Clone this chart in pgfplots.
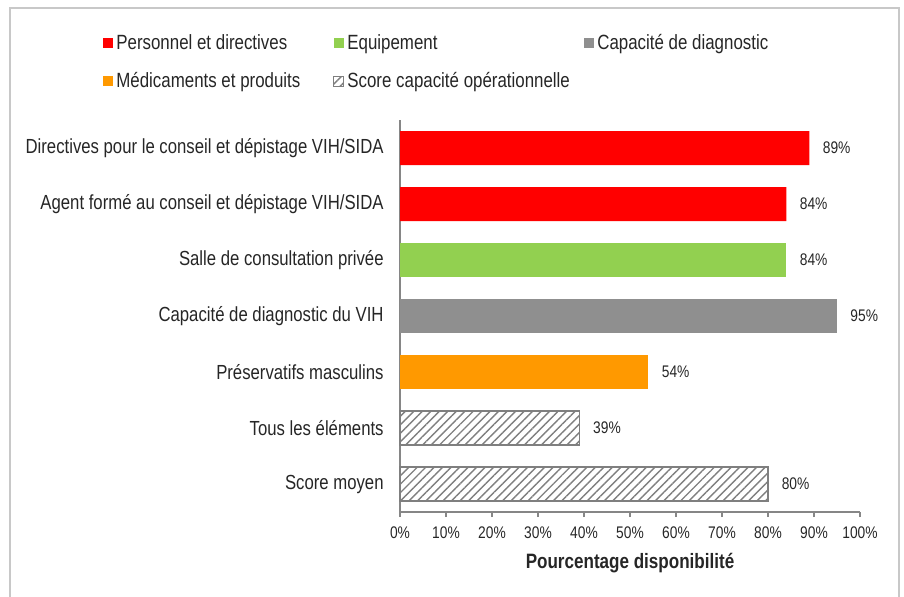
\documentclass[border=0pt]{standalone}
\usepackage{fontspec}
\setmainfont[FakeStretch=0.82]{Liberation Sans}
\usepackage{pgfplots}
\pgfplotsset{compat=1.18}
\usetikzlibrary{patterns.meta}
\definecolor{cred}{HTML}{FF0000}
\definecolor{cgreen}{HTML}{92D050}
\definecolor{cgray}{HTML}{8F8F8F}
\definecolor{corange}{HTML}{FF9900}
\definecolor{chatch}{HTML}{7F7F7F}
\definecolor{caxis}{HTML}{868686}
\definecolor{cframe}{HTML}{C8C8C8}
\definecolor{ctext}{HTML}{262626}
\begin{document}
\begin{tikzpicture}
\path[use as bounding box] (0pt,0pt) rectangle (452pt,-298pt);
\draw[color=cframe, line width=1pt] (5pt,-305pt) -- (5pt,-4pt) -- (449.5pt,-4pt) -- (449.5pt,-305pt);
\begin{axis}[
  at={(200pt,-256pt)}, anchor=south west,
  scale only axis, width=230pt, height=196pt,
  xbar, bar width=17pt,
  legend image code/.code={\path[#1, line width=0.5pt] (0pt,-2.2pt) rectangle (5pt,2.8pt);},
  xmin=0, xmax=100, ymin=-0.5, ymax=6.5, y dir=reverse,
  enlargelimits=false, clip=false,
  axis x line=bottom, axis y line=left,
  axis line style={-, draw=caxis, line width=0.6pt},
  xtick={0,10,...,100},
  xticklabels={0\%,10\%,20\%,30\%,40\%,50\%,60\%,70\%,80\%,90\%,100\%},
  xtick style={draw=caxis, line width=0.6pt},
  tick align=outside, major tick length=2.5pt,
  xticklabel style={font=\fontsize{8.4}{9.5}\selectfont, text=ctext, yshift=-1.2pt},
  ytick={0,...,6},
  yticklabels={Directives pour le conseil et dépistage VIH/SIDA,Agent formé au conseil et dépistage VIH/SIDA,Salle de consultation privée,Capacité de diagnostic du VIH,Préservatifs masculins,Tous les éléments,Score moyen},
  ytick style={draw=none},
  yticklabel style={font=\fontsize{10.2}{12}\selectfont, text=ctext, inner sep=0pt, xshift=-5.5pt},
  xlabel={\bfseries Pourcentage disponibilité},
  every axis x label/.style={at={(axis description cs:0.5,0)}, anchor=center, yshift=-25.5pt, font=\fontsize{10.4}{12}\selectfont, text=ctext},
  /pgf/number format/assume math mode=true,
  nodes near coords={\pgfmathprintnumber{\pgfplotspointmeta}\%},
  nodes near coords align=horizontal,
  every node near coord/.append style={font=\fontsize{8.4}{9.5}\selectfont, text=ctext, xshift=3.2pt},
  legend columns=3, legend cell align=left,
  legend style={at={(axis description cs:-0.6457,1.2195)}, anchor=north west, draw=none, fill=none, inner sep=0pt,
    font=\fontsize{10.3}{12}\selectfont, text=ctext,
    nodes={inner sep=0pt},
    /tikz/every odd column/.append style={column sep=1.5pt},
    /tikz/every even column/.append style={column sep=0pt},
    row sep=10.1pt},
]
\addplot[bar shift=0pt, fill=cred, draw=none] coordinates {(89,0) (84,1)};
\addlegendentry{\makebox[108.5pt][l]{Personnel et directives}}
\addplot[bar shift=0pt, fill=cgreen, draw=none] coordinates {(84,2)};
\addlegendentry{\makebox[118.5pt][l]{Equipement}}
\addplot[bar shift=0pt, fill=cgray, draw=none] coordinates {(95,3)};
\addlegendentry{Capacité de diagnostic}
\addplot[bar shift=0pt, fill=corange, draw=none] coordinates {(54,4)};
\addlegendentry{\makebox[108.5pt][l]{Médicaments et produits}}
\addplot[bar shift=0pt, draw=chatch, line width=0.75pt, fill=white, pattern={Lines[angle=45, distance=3pt, line width=0.7pt]}, pattern color=chatch] coordinates {(39,5) (80,6)};
\addlegendentry{\makebox[118.5pt][l]{Score capacité opérationnelle}}
\end{axis}
\end{tikzpicture}
\end{document}
